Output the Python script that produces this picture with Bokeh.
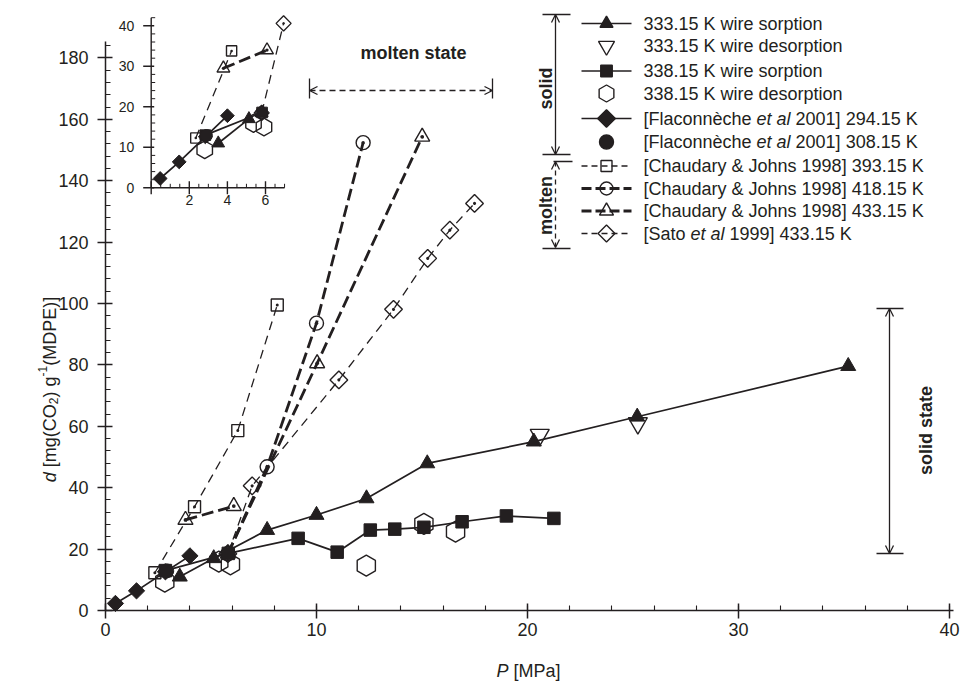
import numpy as np
from bokeh.plotting import figure
from bokeh.models import Range1d, FixedTicker, Label, Arrow, OpenHead
from bokeh.core.properties import value
from bokeh.embed import file_html
from bokeh.resources import INLINE

nan = float("nan")

# ---------------- data: P [MPa], d [mg(CO2)/g(MDPE)] ----------------
s333_P = [3.52, 5.13, 7.66, 10.0, 12.37, 15.25, 20.3, 25.2, 35.2]
s333_d = [11.0, 17.0, 26.2, 31.1, 36.5, 47.9, 55.0, 63.1, 79.6]
d333_P = [20.58, 25.23]
d333_d = [57.2, 61.0]
s338_P = [2.84, 5.82, 9.13, 10.98, 12.55, 13.71, 15.09, 16.9, 19.0, 21.25]
s338_d = [13.0, 18.6, 23.5, 19.0, 26.2, 26.5, 27.1, 28.9, 30.8, 30.0]
d338_P = [2.81, 5.37, 5.92, 12.36, 15.09, 16.59]
d338_d = [9.4, 15.9, 15.0, 14.6, 28.2, 25.7]
fl294_P = [0.47, 1.47, 2.84, 4.0]
fl294_d = [2.3, 6.4, 12.6, 17.8]
fl308_P = [2.9]
fl308_d = [12.9]
cj393_P = [2.34, 4.22, 6.27, 8.14]
cj393_d = [12.3, 33.8, 58.6, 99.5]
cj418_P = [5.8, 7.66, 10.0, 12.21]
cj418_d = [18.5, 46.8, 93.6, 152.4]
cj433_P = [3.79, 6.08, nan, 5.8, 10.03, 15.01]
cj433_d = [29.5, 34.0, nan, 18.5, 80.5, 154.3]
sato_P = [5.8, 6.95, 11.06, 13.65, 15.27, 16.32, 17.49]
sato_d = [18.5, 40.6, 75.1, 98.1, 114.7, 123.9, 132.6]

x_ticks = [0, 10, 20, 30, 40]
y_ticks = [0, 20, 40, 60, 80, 100, 120, 140, 160, 180]
inset_x_ticks = [0, 2, 4, 6]
inset_x_labels = ["2", "4", "6"]
inset_y_ticks = [0, 10, 20, 30, 40]

# ---------------- layout constants (page pixels) ----------------
W, H = 962, 688
X0PX, Y0PX = 105, 610          # page pixel of P=0 / d=0
XPX, YPX = 21.1, 3.07          # pixels per unit
IX0, IXS, IY0, IYS = 150.7, 19.05, 187.3, 4.05
INK = "#231f20"
FONT = "Liberation Sans"

CW = {' ': 278, '[': 278, ']': 278, '(': 333, ')': 333, '&': 667, '.': 278, '-': 333,
      'A': 667, 'C': 722, 'D': 722, 'E': 667, 'F': 611, 'J': 500, 'K': 667, 'M': 833,
      'O': 778, 'P': 667, 'S': 667, 'a': 556, 'c': 500, 'd': 556, 'e': 556, 'è': 556,
      'g': 556, 'h': 556, 'i': 222, 'l': 222, 'm': 833, 'n': 556, 'o': 556, 'p': 556,
      'r': 333, 's': 500, 't': 278, 'u': 556, 'w': 722, 'y': 500}


def tw(s, size):
    return sum(CW.get(c, 556) for c in s) * size / 1000.0


# the frame covers the whole canvas; the axes are pinned at P=0 and d=0
p = figure(width=W, height=H, output_backend="svg", toolbar_location=None,
           x_range=Range1d(-X0PX / XPX, (W - X0PX) / XPX),
           y_range=Range1d(-(H - Y0PX) / YPX, Y0PX / YPX),
           min_border=0, min_border_left=0, min_border_right=0, min_border_top=0,
           min_border_bottom=0)
p.outline_line_color = None
p.xgrid.visible = False
p.ygrid.visible = False
p.background_fill_color = "white"
p.border_fill_color = "white"

p.extra_x_ranges = {"px": Range1d(0, W),
                    "ix": Range1d(-IX0 / IXS, (W - IX0) / IXS)}
p.extra_y_ranges = {"py": Range1d(H, 0),
                    "iy": Range1d((IY0 - H) / IYS, IY0 / IYS)}

# ---------------- axes ----------------
p.xaxis.ticker = FixedTicker(ticks=x_ticks, minor_ticks=list(np.arange(0, 40.3, 2)))
p.yaxis.ticker = FixedTicker(ticks=y_ticks, minor_ticks=list(np.arange(0, 185.5, 4)))
p.xaxis.bounds = (0, 40.2)
p.yaxis.bounds = (0, 185.3)
p.xaxis.fixed_location = 0
p.yaxis.fixed_location = 0
for ax in (p.xaxis[0], p.yaxis[0]):
    ax.axis_line_color = INK
    ax.axis_line_width = 1.5
    ax.major_tick_line_color = INK
    ax.minor_tick_line_color = INK
    ax.major_tick_line_width = 1.5
    ax.minor_tick_line_width = 1.1
    ax.major_tick_in = 7
    ax.major_tick_out = 8
    ax.minor_tick_in = 5
    ax.minor_tick_out = 0
    ax.major_label_text_font = FONT
    ax.major_label_text_font_size = "18px"
    ax.major_label_text_color = INK
p.xaxis.major_label_standoff = 4
p.yaxis.major_label_standoff = 9

# ---------------- series ----------------
SOLID = dict(line_width=1.7, line_dash="solid")
THIN = dict(line_width=1.3, line_dash="9 6")
THICK = dict(line_width=2.8, line_dash="12 5")
R90, R45 = np.pi / 2, np.pi / 4

series = [
    dict(label=[("333.15 K wire sorption", False)], P=s333_P, d=s333_d, line=SOLID,
         marker="triangle", size=15, fill=True, angle=0, lsize=13),
    dict(label=[("333.15 K wire desorption", False)], P=d333_P, d=d333_d, line=None,
         marker="inverted_triangle", size=19, fill=False, angle=0, lsize=16),
    dict(label=[("338.15 K wire sorption", False)], P=s338_P, d=s338_d, line=SOLID,
         marker="square", size=12.5, fill=True, angle=0, lsize=11.5),
    dict(label=[("338.15 K wire desorption", False)], P=d338_P, d=d338_d, line=None,
         marker="hex", size=21, fill=False, angle=R90, lsize=17),
    dict(label=[("[Flaconnèche", False), ("et al", True), ("2001] 294.15 K", False)],
         P=fl294_P, d=fl294_d, line=SOLID, marker="square", size=11.5, fill=True,
         angle=R45, lsize=12.5),
    dict(label=[("[Flaconnèche", False), ("et al", True), ("2001] 308.15 K", False)],
         P=fl308_P, d=fl308_d, line=None, marker="circle", size=14, fill=True, angle=0,
         lsize=14),
    dict(label=[("[Chaudary & Johns 1998] 393.15 K", False)], P=cj393_P, d=cj393_d,
         line=THIN, marker="square_dot", size=12, fill=False, angle=0, lsize=11),
    dict(label=[("[Chaudary & Johns 1998] 418.15 K", False)], P=cj418_P, d=cj418_d,
         line=THICK, marker="circle_dot", size=14, fill=False, angle=0, lsize=13),
    dict(label=[("[Chaudary & Johns 1998] 433.15 K", False)], P=cj433_P, d=cj433_d,
         line=THICK, marker="triangle_dot", size=15, fill=False, angle=0, lsize=14),
    dict(label=[("[Sato", False), ("et al", True), ("1999] 433.15 K", False)], P=sato_P,
         d=sato_d, line=THIN, marker="square_dot", size=12.5, fill=False, angle=R45,
         lsize=12),
]


def inset_subset(P, d):
    xs, ys = [], []
    for a, b in zip(P, d):
        if a == a and a <= 7.05 and b <= 42:
            xs.append(a)
            ys.append(b)
        else:
            xs.append(nan)
            ys.append(nan)
    return xs, ys


def draw(xs, ys, s, rng, scale, stage):
    kw = {} if rng is None else dict(x_range_name=rng[0], y_range_name=rng[1])
    if stage == "line" and s["line"] is not None:
        p.line(xs, ys, line_color=INK, line_width=s["line"]["line_width"],
               line_dash=s["line"]["line_dash"], **kw)
    if stage == "open" and not s["fill"]:
        p.scatter(xs, ys, marker=s["marker"], size=s["size"] * scale, angle=s["angle"],
                  fill_color=None, line_color=INK, line_width=1.4, **kw)
    if stage == "filled" and s["fill"]:
        p.scatter(xs, ys, marker=s["marker"], size=s["size"] * scale, angle=s["angle"],
                  fill_color=INK, line_color=INK, line_width=1, **kw)


for stage in ("line", "open", "filled"):
    for s in series:
        draw(s["P"], s["d"], s, None, 1.0, stage)
        ix, iy = inset_subset(s["P"], s["d"])
        draw(ix, iy, s, ("ix", "iy"), 0.85, stage)

# ---------------- inset axes ----------------
IK = dict(x_range_name="ix", y_range_name="iy", line_color=INK)
p.segment(x0=[0, 0], y0=[0, 0], x1=[0, 7.0], y1=[42.0, 0], line_width=1.4, **IK)
ny = len(inset_y_ticks)
p.segment(x0=[-8 / IXS] * ny, x1=[3 / IXS] * ny, y0=inset_y_ticks, y1=inset_y_ticks,
          line_width=1.4, **IK)
ym = [v for v in np.arange(0, 42.01, 2) if v % 10]
p.segment(x0=[0] * len(ym), x1=[4 / IXS] * len(ym), y0=ym, y1=ym, line_width=1.0, **IK)
nx = len(inset_x_ticks)
p.segment(x0=inset_x_ticks, x1=inset_x_ticks, y0=[-6.5 / IYS] * nx, y1=[6.5 / IYS] * nx,
          line_width=1.4, **IK)
xm = [v for v in np.arange(0, 7.01, 0.5) if v % 2]
p.segment(x0=xm, x1=xm, y0=[0] * len(xm), y1=[4 / IYS] * len(xm), line_width=1.0, **IK)
p.text(x=[-17 / IXS] * ny, y=inset_y_ticks, text=[str(v) for v in inset_y_ticks],
       x_range_name="ix", y_range_name="iy", text_align="right", text_baseline="middle",
       text_font=value(FONT), text_font_size="14px", text_color=INK)
p.text(x=inset_x_ticks[1:], y=[-7 / IYS] * 3, text=inset_x_labels,
       x_range_name="ix", y_range_name="iy", text_align="center", text_baseline="top",
       text_font=value(FONT), text_font_size="14px", text_color=INK)

# ---------------- legend (page-pixel coordinates) ----------------
PX = dict(x_range_name="px", y_range_name="py")
row_y = [23, 45.5, 70.5, 93, 118, 141.5, 165.5, 188, 210.5, 233]
LX0, LX1, LXM, TX = 581, 631, 606, 643
reg = dict(x=[], y=[], text=[])
ita = dict(x=[], y=[], text=[])
for s, y in zip(series, row_y):
    if s["line"] is not None:
        p.segment(x0=[LX0], x1=[LX1], y0=[y], y1=[y], line_color=INK,
                  line_width=s["line"]["line_width"], line_dash=s["line"]["line_dash"]
                  if s["line"]["line_dash"] == "solid" else
                  ("6 4" if s["line"]["line_width"] < 2 else "10 4"), **PX)
    mk = s["marker"].replace("_dot", "")
    p.scatter([LXM], [y], marker=mk, size=s["lsize"], angle=s["angle"],
              fill_color=INK if s["fill"] else None, line_color=INK, line_width=1.4,
              **PX)
    full = ""
    for txt, it in s["label"]:
        if full:
            full += " "
        d = ita if it else reg
        d["x"].append(TX + tw(full, 18))
        d["y"].append(y)
        d["text"].append(txt)
        full += txt
p.text(x=reg["x"], y=reg["y"], text=reg["text"], text_font=value(FONT),
       text_font_size="18px", text_baseline="middle", text_color=INK, **PX)
p.text(x=ita["x"], y=ita["y"], text=ita["text"], text_font=value(FONT),
       text_font_style="italic", text_font_size="18px", text_baseline="middle",
       text_color=INK, **PX)

# brackets beside legend
AH = dict(size=8, line_width=1.3, line_color=INK)
p.add_layout(Arrow(start=OpenHead(**AH), end=OpenHead(**AH), x_start=555, y_start=154,
                   x_end=555, y_end=14, line_color=INK, line_width=1.3, **PX))
p.add_layout(Arrow(start=OpenHead(**AH), end=OpenHead(**AH), x_start=555, y_start=161,
                   x_end=555, y_end=247, line_color=INK, line_width=1.3,
                   line_dash="5 4", **PX))
p.segment(x0=[542, 542, 553, 542], x1=[570, 570, 572, 570], y0=[14, 154, 161, 248],
          y1=[14, 154, 161, 248], line_color=INK, line_width=1.5, **PX)
p.text(x=[545, 545], y=[88, 205], text=["solid", "molten"], angle=np.pi / 2,
       text_align="center", text_baseline="middle", text_font=value(FONT),
       text_font_style="bold", text_font_size="18px", text_color=INK, **PX)

# molten state marker
p.add_layout(Arrow(start=OpenHead(**AH), end=OpenHead(**AH), x_start=309, y_start=90,
                   x_end=492, y_end=90, line_color=INK, line_width=1.3, line_dash="6 4",
                   **PX))
p.segment(x0=[309, 492], x1=[309, 492], y0=[78, 78], y1=[98, 98], line_color=INK,
          line_width=1.3, **PX)
p.text(x=[413], y=[52], text=["molten state"], text_align="center",
       text_baseline="middle", text_font=value(FONT), text_font_style="bold",
       text_font_size="18px", text_color=INK, **PX)

# solid state marker
p.add_layout(Arrow(start=OpenHead(**AH), end=OpenHead(**AH), x_start=889, y_start=308,
                   x_end=889, y_end=553, line_color=INK, line_width=1.3, **PX))
p.segment(x0=[876, 876], x1=[903, 903], y0=[308, 553], y1=[308, 553], line_color=INK,
          line_width=1.5, **PX)
p.text(x=[925], y=[430], text=["solid state"], angle=np.pi / 2, text_align="center",
       text_baseline="middle", text_font=value(FONT), text_font_style="bold",
       text_font_size="18px", text_color=INK, **PX)


# ---------------- axis titles (pieces, for italics / sub / superscripts) ----------------
def lab(x, y, text, size=18, style="normal", angle=0.0):
    p.add_layout(Label(x=x, y=y, text=text, angle=angle, text_align="left",
                       text_baseline="alphabetic", text_font=FONT,
                       text_font_size=f"{size}px", text_font_style=style,
                       text_color=INK, **PX))


yl_x, yl_y = 49, 481.7
pieces = [("d", 18, "italic", 0), ("[mg(CO", 18, "normal", 0), ("2", 12, "normal", 4),
          (") g", 18, "normal", 0), ("-1", 12, "normal", -7), ("(MDPE)]", 18, "normal", 0)]
off = 0.0
for i, (t, sz, st, dx) in enumerate(pieces):
    lab(yl_x + dx, yl_y - off, t, sz, st, np.pi / 2)
    off += tw(t, sz) + (tw(" ", 18) if i == 0 else 0)

xl_x, xl_y = 496, 670
lab(xl_x, xl_y, "P", 18, "italic")
lab(xl_x + tw("P ", 18), xl_y, "[MPa]", 18)

open("out.html", "w").write(file_html(p, INLINE))
